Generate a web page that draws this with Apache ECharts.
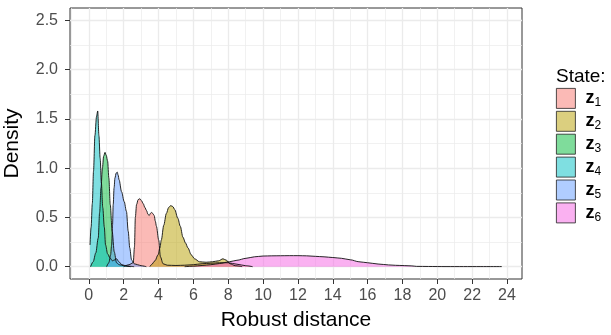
<!DOCTYPE html>
<html><head><meta charset="utf-8">
<script src="https://cdn.jsdelivr.net/npm/echarts@6/dist/echarts.min.js"></script>
<style>html,body{margin:0;padding:0;background:#fff}#c{width:611px;height:335px}</style>
</head><body><div id="c"></div>
<script>
const stateNames = ['z1','z2','z3','z4','z5','z6'];
const fillColors = ['#F8766D','#B79F00','#00BA38','#00BFC4','#619CFF','#F564E3'];
const xMajorTicks = [0,2,4,6,8,10,12,14,16,18,20,22,24];
const xMinorTicks = [-1,1,3,5,7,9,11,13,15,17,19,21,23];
const yMajorTicks = [0,0.5,1,1.5,2,2.5];
const yMinorTicks = [0.25,0.75,1.25,1.75,2.25];

const z1 = [[2.0,0.0],[2.3,0.02],[2.55,0.04],[2.62,0.2],[2.67,0.5],[2.74,0.63],[2.83,0.68],[2.93,0.69],[3.02,0.67],[3.12,0.64],[3.22,0.60],[3.31,0.57],[3.40,0.53],[3.47,0.52],[3.53,0.54],[3.59,0.55],[3.67,0.54],[3.75,0.52],[3.82,0.46],[3.88,0.41],[4.01,0.27],[4.11,0.10],[4.26,0.03],[4.5,0.015],[5.0,0.012],[5.5,0.015],[6.0,0.02],[6.5,0.03],[7.0,0.035],[7.5,0.04],[8.0,0.04],[8.5,0.025],[9.0,0.01],[9.4,0.0]];
const z2 = [[3.5,0.0],[3.59,0.02],[3.8,0.06],[3.97,0.12],[4.08,0.19],[4.16,0.27],[4.3,0.42],[4.45,0.54],[4.58,0.60],[4.70,0.62],[4.82,0.61],[4.93,0.58],[5.11,0.49],[5.25,0.41],[5.4,0.30],[5.55,0.24],[5.69,0.19],[5.88,0.12],[6.07,0.08],[6.35,0.05],[6.73,0.045],[7.1,0.05],[7.45,0.06],[7.7,0.08],[7.9,0.065],[8.1,0.03],[8.4,0.01],[8.8,0.0]];
const z3 = [[0.1,0.0],[0.25,0.05],[0.4,0.14],[0.54,0.29],[0.62,0.55],[0.70,0.80],[0.78,1.0],[0.85,1.12],[0.93,1.16],[1.0,1.13],[1.08,1.07],[1.15,0.90],[1.23,0.63],[1.34,0.36],[1.46,0.15],[1.59,0.04],[1.75,0.02],[2.0,0.01],[2.4,0.0]];
const z4 = [[0.07,0.22],[0.13,0.40],[0.2,0.64],[0.27,0.97],[0.35,1.33],[0.44,1.52],[0.51,1.58],[0.58,1.33],[0.65,1.10],[0.72,0.85],[0.8,0.6],[0.89,0.40],[0.96,0.22],[1.08,0.13],[1.21,0.09],[1.35,0.06],[1.5,0.07],[1.6,0.08],[1.72,0.05],[1.9,0.02],[2.2,0.005],[2.6,0.0]];
const z5 = [[1.02,0.0],[1.15,0.04],[1.25,0.12],[1.31,0.22],[1.36,0.42],[1.40,0.63],[1.45,0.80],[1.5,0.90],[1.57,0.95],[1.63,0.96],[1.68,0.93],[1.74,0.88],[1.88,0.76],[2.03,0.66],[2.16,0.56],[2.26,0.36],[2.35,0.19],[2.45,0.07],[2.6,0.03],[2.8,0.02],[3.0,0.01],[3.3,0.0]];
const z6 = [[5.5,0.0],[6.0,0.005],[6.5,0.012],[7.0,0.02],[7.5,0.032],[8.07,0.05],[8.5,0.065],[9.02,0.085],[9.5,0.1],[10.0,0.108],[10.5,0.11],[11.0,0.111],[11.5,0.112],[12.0,0.112],[12.5,0.11],[13.0,0.105],[13.5,0.1],[14.0,0.093],[14.5,0.085],[15.0,0.07],[15.5,0.05],[16.0,0.04],[16.6,0.027],[17.2,0.018],[17.6,0.014],[18.1,0.011],[18.54,0.008],[18.8,0.003],[19.5,0.002],[20.5,0.001],[21.5,0.001],[22.5,0.001],[23.7,0.001]];
const seriesData = [z1,z2,z3,z4,z5,z6];

const FONT = "'Liberation Sans', Arial, sans-serif";
const X_MIN = -1.08, X_MAX = 24.86, Y_MIN = -0.125, Y_MAX = 2.625;

function rgba(hex, a){
  const r=parseInt(hex.slice(1,3),16), g=parseInt(hex.slice(3,5),16), b=parseInt(hex.slice(5,7),16);
  return 'rgba('+r+','+g+','+b+','+a+')';
}

const chart = echarts.init(document.getElementById('c'), null, {renderer:'canvas'});
const hiddenParts = {axisLine:{show:false, onZero:false}, axisLabel:{show:false}};
chart.setOption({
  animation:false,
  backgroundColor:'#fff',
  textStyle:{fontFamily:FONT},
  title:{text:'State:', left:556, top:67, padding:0, textStyle:{fontSize:19, fontWeight:'normal', color:'#000', fontFamily:FONT}},
  legend:{
    orient:'vertical', left:556, top:88, itemWidth:19, itemHeight:20, itemGap:2, selectedMode:false, padding:0,
    data: stateNames.map((n,i)=>({name:n, icon:'rect', itemStyle:{color:rgba(fillColors[i],0.5), borderColor:'#222', borderWidth:0.8}})),
    formatter: name => '{z|z}{n|' + name.slice(1) + '}',
    textStyle:{fontFamily:FONT, rich:{
      z:{fontSize:18, fontWeight:'bold', color:'#000', padding:[0,0,0,5], fontFamily:FONT},
      n:{fontSize:12, color:'#000', padding:[9,0,0,0], fontFamily:FONT}
    }}
  },
  grid:{left:70, right:89, top:8, bottom:56, containLabel:false, outerBoundsMode:'none',
        show:true, borderColor:'#333', borderWidth:1, backgroundColor:'transparent'},
  xAxis:[
    {type:'value', min:X_MIN, max:X_MAX, position:'bottom',
     axisLine:{show:false, onZero:false},
     axisTick:{show:true, customValues:xMajorTicks, length:5, lineStyle:{color:'#333', width:1}},
     axisLabel:{customValues:xMajorTicks, margin:9, fontSize:16, color:'#4D4D4D', fontFamily:FONT},
     splitLine:{show:true, lineStyle:{color:'#EBEBEB', width:1.3}},
     name:'Robust distance', nameLocation:'middle', nameGap:31, nameTextStyle:{fontSize:21, color:'#000', fontFamily:FONT}},
    Object.assign({type:'value', min:X_MIN, max:X_MAX, position:'top',
     splitLine:{show:true, lineStyle:{color:'#EBEBEB', width:0.7}},
     axisTick:{show:false, customValues:xMinorTicks}}, hiddenParts)
  ],
  yAxis:[
    {type:'value', min:Y_MIN, max:Y_MAX, position:'left',
     axisLine:{show:false, onZero:false},
     axisTick:{show:true, customValues:yMajorTicks, length:5, lineStyle:{color:'#333', width:1}},
     axisLabel:{customValues:yMajorTicks, margin:12, fontSize:16, color:'#4D4D4D', fontFamily:FONT, formatter:v=>v.toFixed(1)},
     splitLine:{show:true, lineStyle:{color:'#EBEBEB', width:1.3}},
     name:'Density', nameLocation:'middle', nameGap:47, nameTextStyle:{fontSize:21, color:'#000', fontFamily:FONT}},
    Object.assign({type:'value', min:Y_MIN, max:Y_MAX, position:'right',
     splitLine:{show:true, lineStyle:{color:'#EBEBEB', width:0.7}},
     axisTick:{show:false, customValues:yMinorTicks}}, hiddenParts)
  ],
  series: stateNames.map((n,i)=>({
    name:n, type:'line', data:seriesData[i], xAxisIndex:0, yAxisIndex:0,
    smooth:0.3, smoothMonotone:'x', showSymbol:false, symbol:'none',
    lineStyle:{color:'#111', width:0.9},
    itemStyle:{color:fillColors[i]},
    areaStyle:{color:fillColors[i], opacity:0.5},
    z:2
  }))
});
</script></body></html>
